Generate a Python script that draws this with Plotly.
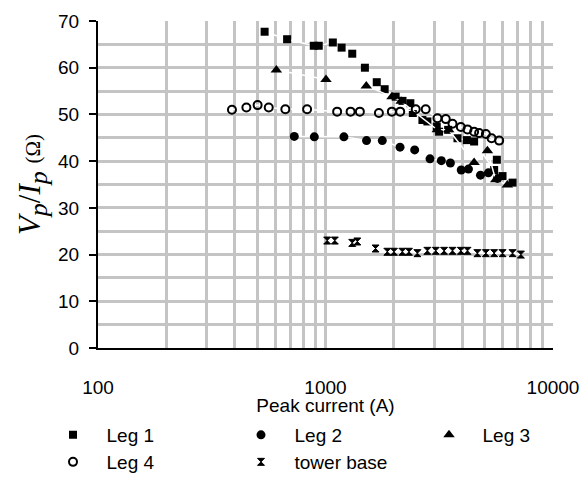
import plotly.graph_objects as go

leg1_x = [540, 678, 888, 934, 1077, 1177, 1311, 1490, 1680, 1820, 2034, 2180, 2360, 2420, 2667, 2805, 3083, 3157, 3460, 3803, 4181, 4500, 5512, 5665, 6000, 6640]
leg1_y = [67.7, 66.1, 64.7, 64.7, 65.4, 64.3, 63.0, 60.0, 56.9, 55.4, 53.8, 52.9, 52.4, 50.3, 48.8, 48.5, 47.4, 46.3, 46.7, 44.9, 44.5, 44.2, 38.1, 40.3, 36.8, 35.4]

leg2_x = [729, 893, 1205, 1515, 1777, 2126, 2466, 2880, 3230, 3540, 3950, 4250, 4800, 5200, 5700]
leg2_y = [45.3, 45.2, 45.2, 44.4, 44.4, 43.0, 42.4, 40.5, 40.1, 39.6, 38.1, 38.3, 37.0, 37.5, 36.3]

leg3_x = [608, 1005, 1511, 1960, 2150, 3100, 3480, 4500, 5150, 5600, 6300]
leg3_y = [59.5, 57.5, 56.1, 53.8, 52.8, 46.7, 46.7, 39.7, 42.2, 36.0, 34.9]

leg4_x = [388, 449, 503, 563, 666, 830, 1125, 1289, 1416, 1717, 1957, 2130, 2492, 2757, 3105, 3378, 3616, 3934, 4208, 4500, 4735, 5069, 5370, 5800]
leg4_y = [51.0, 51.5, 52.0, 51.5, 51.1, 51.1, 50.6, 50.6, 50.6, 50.3, 50.6, 50.6, 51.1, 51.1, 49.2, 49.0, 48.0, 47.3, 46.8, 46.3, 46.0, 45.8, 44.9, 44.4]

tower_x = [1017, 1099, 1311, 1380, 1660, 1870, 2000, 2177, 2328, 2535, 2805, 3052, 3321, 3616, 3934, 4208, 4652, 5069, 5512, 6000, 6640, 7227]
tower_y = [23.0, 23.0, 22.5, 22.8, 21.3, 20.6, 20.6, 20.6, 20.6, 20.3, 20.8, 20.8, 20.8, 20.8, 20.8, 20.8, 20.3, 20.3, 20.3, 20.3, 20.3, 20.0]

x_tick_vals = [100, 1000, 10000]
x_tick_text = ["100", "1000", "10000"]

series = [
    ("Leg 1", leg1_x, leg1_y, dict(symbol="square", size=8, color="black")),
    ("Leg 2", leg2_x, leg2_y, dict(symbol="circle", size=9, color="black")),
    ("Leg 3", leg3_x, leg3_y, dict(symbol="triangle-up", size=10, color="black")),
    ("Leg 4", leg4_x, leg4_y, dict(symbol="circle-open", size=8, color="black", line=dict(width=2, color="black"))),
    ("tower base", tower_x, tower_y, dict(symbol="hourglass", size=7, color="black", line=dict(width=1, color="black"))),
]
legend_ids = ["legend", "legend2", "legend3", "legend4", "legend5"]

# The page body adds an 8px offset, so the figure is 8px smaller each way
W, H = 580, 469
legend_left = [31.5, 219.5, 407.5, 31.5, 219.5]
legend_row = [427, 427, 427, 454, 454]

fig = go.Figure()
for (name, xs, ys, mk), lg in zip(series, legend_ids):
    fig.add_trace(go.Scatter(x=xs, y=ys, name=name, mode="lines+markers", legend=lg,
                             line=dict(color="white", width=1.5), marker=mk))

grid_color = "#c4c4c4"
legend_layout = {}
for lg, lx, ly in zip(legend_ids, legend_left, legend_row):
    legend_layout[lg] = dict(orientation="h", xref="container", yref="container",
                             x=lx / W, y=1 - ly / H, xanchor="left", yanchor="middle",
                             font=dict(size=19), itemwidth=57, bgcolor="rgba(0,0,0,0)")

fig.update_layout(
    width=W, height=H,
    margin=dict(l=90, r=35, t=13, b=129, autoexpand=False),
    paper_bgcolor="white", plot_bgcolor="white",
    font=dict(family="Liberation Sans, Arial, sans-serif", size=19, color="black"),
    showlegend=True,
    **legend_layout,
    xaxis=dict(type="log", range=[2, 4], tickvals=x_tick_vals, ticktext=x_tick_text,
               showgrid=True, gridcolor=grid_color, gridwidth=2.5,
               minor=dict(showgrid=True, gridcolor=grid_color, gridwidth=2.5, dtick="D1"),
               showline=True, linecolor="black", linewidth=2, ticks="", ticklabelstandoff=21,
               zeroline=False, automargin=False,
               title=dict(text="Peak current (A)", standoff=5, font=dict(size=19))),
    yaxis=dict(range=[0, 70], dtick=10, showgrid=True, gridcolor=grid_color, gridwidth=2.5,
               minor=dict(showgrid=True, gridcolor=grid_color, gridwidth=2.5, dtick=5),
               showline=True, linecolor="black", linewidth=2, ticks="outside", ticklen=7,
               tickwidth=2, tickcolor="black", zeroline=False, ticklabelstandoff=6,
               automargin=False,
               title=dict(text="<i>V<sub><span style='font-size:26px'>p</span></sub></i>/<i>I<sub><span style='font-size:26px'>p</span></sub></i> <span style='font-size:21px'>(Ω)</span>",
                          font=dict(family="Liberation Serif, Times New Roman, serif", size=31),
                          standoff=8)),
)

fig.write_html("out.html")
